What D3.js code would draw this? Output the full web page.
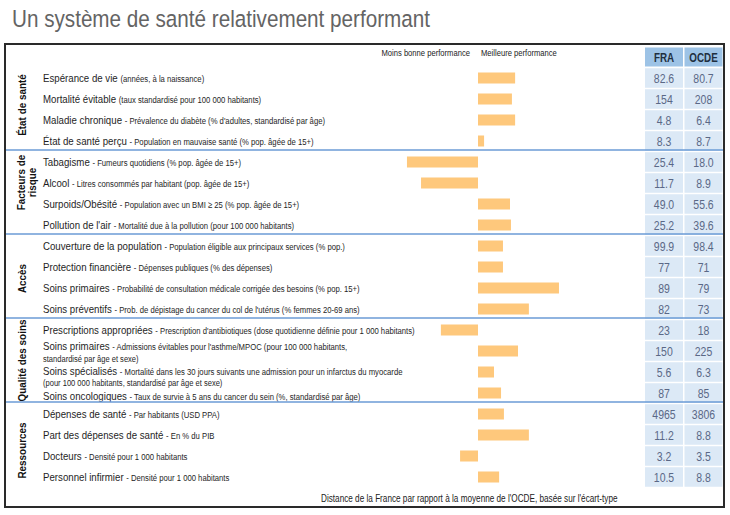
<!DOCTYPE html>
<html><head><meta charset="utf-8">
<script src="https://cdn.jsdelivr.net/npm/d3@7"></script>
<style>
body{margin:0;background:#fff;}
svg{display:block;font-family:"Liberation Sans",Arial,sans-serif;}
</style></head>
<body><svg id="c" width="730" height="515"></svg>
<script>
const title = "Un système de santé relativement performant";
const sections = ["État de santé", "Facteurs de risque", "Accès", "Qualité des soins", "Ressources"];
const sectionOf = [0,0,0,0, 1,1,1,1, 2,2,2,2, 3,3,3,3, 4,4,4,4];
const indicators = ["Espérance de vie","Mortalité évitable","Maladie chronique","État de santé perçu",
  "Tabagisme","Alcool","Surpoids/Obésité","Pollution de l'air",
  "Couverture de la population","Protection financière","Soins primaires","Soins préventifs",
  "Prescriptions appropriées","Soins primaires","Soins spécialisés","Soins oncologiques",
  "Dépenses de santé","Part des dépenses de santé","Docteurs","Personnel infirmier"];
const details = ["(années, à la naissance)","(taux standardisé pour 100 000 habitants)",
  "- Prévalence du diabète (% d'adultes, standardisé par âge)","- Population en mauvaise santé (% pop. âgée de 15+)",
  "- Fumeurs quotidiens (% pop. âgée de 15+)","- Litres consommés par habitant (pop. âgée de 15+)",
  "- Population avec un BMI ≥ 25 (% pop. âgée de 15+)","- Mortalité due à la pollution (pour 100 000 habitants)",
  "- Population éligible aux principaux services (% pop.)","- Dépenses publiques (% des dépenses)",
  "- Probabilité de consultation médicale corrigée des besoins (% pop. 15+)","- Prob. de dépistage du cancer du col de l'utérus (% femmes 20-69 ans)",
  "- Prescription d'antibiotiques (dose quotidienne définie pour 1 000 habitants)",
  "- Admissions évitables pour l'asthme/MPOC  (pour 100 000 habitants,|standardisé par âge et sexe)",
  "- Mortalité dans les 30 jours suivants une admission pour un infarctus du myocarde|(pour 100 000 habitants, standardisé par âge et sexe)",
  "- Taux de survie à 5 ans du cancer du sein (%, standardisé par âge)",
  "- Par habitants (USD PPA)","- En % du PIB","- Densité pour 1 000 habitants","- Densité pour 1 000 habitants"];
const fraValues = ["82.6","154","4.8","8.3","25.4","11.7","49.0","25.2","99.9","77","89","82","23","150","5.6","87","4965","11.2","3.2","10.5"];
const ocdeValues = ["80.7","208","6.4","8.7","18.0","8.9","55.6","39.6","98.4","71","79","73","18","225","6.3","85","3806","8.8","3.5","8.8"];
// distance of France from OECD average (standard deviations)
const distance = [1.16,1.06,1.16,0.19,-2.22,-1.78,1.00,1.03,0.78,0.78,2.53,1.59,-1.16,1.25,0.50,0.72,0.81,1.59,-0.56,0.66];
const columns = ["FRA","OCDE"];
const headerLeft = "Moins bonne performance", headerRight = "Meilleure performance";
const footer = "Distance de la France par rapport à la moyenne de l'OCDE, basée sur l'écart-type";

// layout styling
const K = 0.82; // horizontal condensation (narrow font look)
const labelDy = [0,0,0,0, 0,0,0,0, 0,0,0,0, 0,-5,-1.5,2.5, 0,0,0,0];
const sectionDy = [-4.5,-11,1,-1,5];

const svg = d3.select("#c");
const idx = d3.range(indicators.length);
const y = d3.scaleBand().domain(idx).range([67.5, 487.5]).paddingInner(0);
const x = d3.scaleLinear().domain([-3, 3]).range([382, 574]);
const colX = d3.scaleBand().domain(columns).range([645, 724]).paddingInner(0);

function ntext(parent, px, py, k = K) {
  return parent.append("text").attr("transform", `translate(${px},${py}) scale(${k},1)`);
}

// title
svg.append("text").attr("x", 12).attr("y", 27).attr("fill", "#646464")
  .attr("font-size", 24.5)
  .attr("textLength", 418).attr("lengthAdjust", "spacingAndGlyphs").text(title);

// table cells
const cellFill = "#dce9f6", headFill = "#9dc3e6";
columns.forEach((c, ci) => {
  const cx = colX(c) + colX.bandwidth()/2 - 0.75;
  svg.append("rect").attr("x", colX(c)).attr("y", 47.5).attr("width", colX.bandwidth() - 1.5)
    .attr("height", 19).attr("fill", headFill);
  ntext(svg, cx, 61.5).attr("text-anchor","middle").attr("font-size", 12)
    .attr("font-weight","bold").attr("fill","#1f2f3f").text(c);
  const vals = ci === 0 ? fraValues : ocdeValues;
  svg.append("g").selectAll("rect").data(idx).join("rect")
    .attr("x", colX(c)).attr("y", d => y(d) + 0.75).attr("width", colX.bandwidth() - 1.5)
    .attr("height", y.bandwidth() - 1.5).attr("fill", cellFill);
  const g = svg.append("g");
  idx.forEach(d => {
    ntext(g, cx, y(d) + y.bandwidth()/2 + 4.5).attr("text-anchor","middle")
      .attr("font-size", 12.8).attr("fill","#5a6886").text(vals[d]);
  });
});

// bars
svg.append("g").selectAll("rect").data(idx).join("rect")
  .attr("x", d => Math.min(x(0), x(distance[d])))
  .attr("y", d => y(d) + 5)
  .attr("width", d => Math.abs(x(distance[d]) - x(0)))
  .attr("height", 11).attr("fill", "#fec87c");

// labels
const lab = svg.append("g");
idx.forEach(i => {
  const parts = details[i].split("|");
  const cy = y(i) + y.bandwidth()/2 + labelDy[i];
  const t = ntext(lab, 43, cy + 4).attr("fill", "#1e1e1e");
  t.append("tspan").attr("font-size", 11.8).text(indicators[i] + " ");
  t.append("tspan").attr("font-size", 9.4).text(parts[0]);
  if (parts.length > 1) {
    ntext(lab, 43, cy + 15.5).attr("font-size", 9.2).attr("fill","#1e1e1e").text(parts[1]);
  }
});

// section separators
const sepColor = "#6b9bd6";
d3.range(1, sections.length).forEach(s => {
  const first = sectionOf.indexOf(s);
  svg.append("line").attr("x1", 5).attr("x2", 724).attr("y1", y(first) - 1.5).attr("y2", y(first) - 1.5)
    .attr("stroke", sepColor).attr("stroke-width", 1.5);
});

// section labels (rotated)
sections.forEach((s, si) => {
  const rows = idx.filter(i => sectionOf[i] === si);
  const top = y(rows[0]), bot = y(rows[rows.length-1]) + y.bandwidth();
  const cy = (top + bot)/2 + sectionDy[si];
  const lines = s === "Facteurs de risque" ? ["Facteurs de", "risque"] : [s];
  const g = svg.append("g").attr("transform", `translate(${lines.length>1?21:22},${cy}) rotate(-90) scale(0.86,1)`);
  lines.forEach((ln, li) => {
    g.append("text").attr("y", li * 11 + 4).attr("text-anchor","middle")
      .attr("font-size", 11.5).attr("font-weight","bold").attr("fill","#111").text(ln);
  });
});

// header
ntext(svg, 470, 55.5).attr("text-anchor","end").attr("font-size", 9.3).attr("fill","#222").text(headerLeft);
ntext(svg, 481, 55.5).attr("font-size", 9.3).attr("fill","#222").text(headerRight);

// footer
ntext(svg, 321, 502).attr("font-size", 10).attr("fill","#222").text(footer);

// frame
svg.append("rect").attr("x", 5).attr("y", 44).attr("width", 719).attr("height", 463)
  .attr("fill","none").attr("stroke","#2a2a2a").attr("stroke-width", 2);
</script></body></html>
